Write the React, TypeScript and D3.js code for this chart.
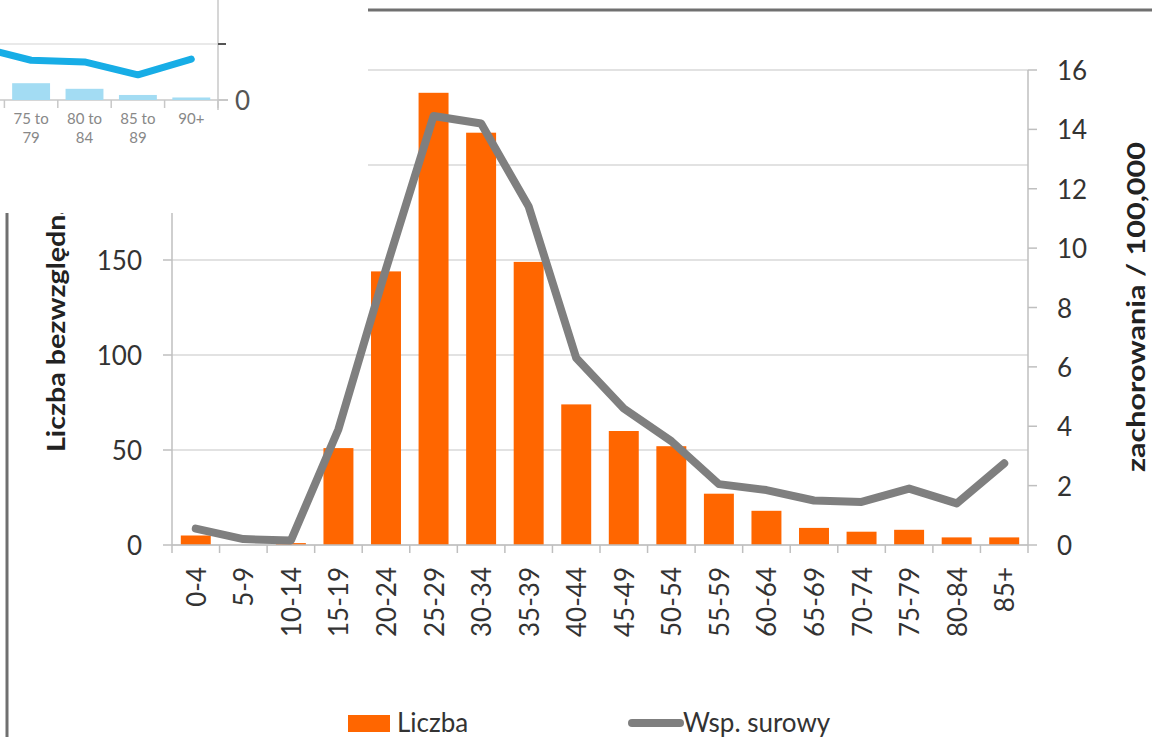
import React from "react";
import * as d3 from "d3";

// Age groups and values for the main chart
const ageGroups = ["0-4", "5-9", "10-14", "15-19", "20-24", "25-29", "30-34", "35-39", "40-44", "45-49", "50-54", "55-59", "60-64", "65-69", "70-74", "75-79", "80-84", "85+"];
const counts = [5, 0, 1, 51, 144, 238, 217, 149, 74, 60, 52, 27, 18, 9, 7, 8, 4, 4];
const rates = [0.55, 0.2, 0.15, 3.9, 9.3, 14.45, 14.2, 11.4, 6.3, 4.6, 3.5, 2.05, 1.85, 1.5, 1.45, 1.9, 1.4, 2.75];
const countTicks = [0, 50, 100, 150, 200, 250];
const rateTicks = [0, 2, 4, 6, 8, 10, 12, 14, 16];

// Small overlaid panel (older-age tail of another chart)
const insetGroups = ["70 to 74", "75 to 79", "80 to 84", "85 to 89", "90+"];
const insetBars = [4.1, 3.0, 2.0, 0.9, 0.45];
const insetLine = [9.5, 7.1, 6.8, 4.5, 7.3];
const insetTicks = [0, 10];

const W = 1152;
const H = 737;
const FONT = "Lato, 'Open Sans', sans-serif";
const ORANGE = "#ff6600";
const GREY = "#7f7f7f";
const TEXT = "#333";

export default function App() {
  const left = 172;
  const right = 1028;
  const top = 70;
  const bottom = 545;

  const x = d3.scaleBand<string>().domain(ageGroups).range([left, right]).paddingInner(0.37).paddingOuter(0.185);
  const xStep = d3.scaleBand<string>().domain(ageGroups).range([left, right]);
  const yL = d3.scaleLinear().domain([0, 250]).range([bottom, top]);
  const yR = d3.scaleLinear().domain([0, 16]).range([bottom, top]);

  const line = d3
    .line<number>()
    .x((_, i) => (xStep(ageGroups[i]) as number) + xStep.bandwidth() / 2)
    .y((d) => yR(d));

  // inset scales
  const ix = d3.scaleBand<string>().domain(insetGroups).range([-49, 218]).paddingInner(0.29).paddingOuter(0.145);
  const ixStep = d3.scaleBand<string>().domain(insetGroups).range([-49, 218]);
  const iy = d3.scaleLinear().domain([0, 10]).range([100, 44]);
  const iLine = d3
    .line<number>()
    .x((_, i) => (ixStep(insetGroups[i]) as number) + ixStep.bandwidth() / 2)
    .y((d) => iy(d));

  const splitLabel = (s: string) => {
    const m = s.match(/^(\d+ to) (\d+)$/);
    return m ? [m[1], m[2]] : [s];
  };

  return (
    <svg
      width={W}
      height={H}
      style={{ position: "absolute", left: 0, top: 0, background: "#fff" }}
      fontFamily={FONT}
    >
      <rect x={0} y={0} width={W} height={H} fill="#fff" />

      {/* gridlines */}
      {countTicks.map((t) => (
        <line key={"g" + t} x1={left} x2={right} y1={yL(t)} y2={yL(t)} stroke="#d9d9d9" strokeWidth={1.5} />
      ))}

      {/* bars */}
      {counts.map((c, i) => (
        <rect
          key={"b" + i}
          x={x(ageGroups[i])}
          y={yL(c)}
          width={x.bandwidth()}
          height={bottom - yL(c)}
          fill={ORANGE}
        />
      ))}

      {/* axes */}
      <line x1={left} x2={left} y1={top} y2={bottom} stroke="#bfbfbf" strokeWidth={1.5} />
      <line x1={right} x2={right} y1={top} y2={bottom} stroke="#bfbfbf" strokeWidth={1.5} />
      <line x1={left} x2={right} y1={bottom} y2={bottom} stroke="#bfbfbf" strokeWidth={1.5} />
      {countTicks.map((t) => (
        <g key={"lt" + t}>
          <line x1={left - 9} x2={left} y1={yL(t)} y2={yL(t)} stroke="#bfbfbf" strokeWidth={1.5} />
          <text x={142} y={yL(t)} textAnchor="end" dominantBaseline="central" fontSize={26} fill={TEXT}>
            {t}
          </text>
        </g>
      ))}
      {rateTicks.map((t) => (
        <g key={"rt" + t}>
          <line x1={right} x2={right + 9} y1={yR(t)} y2={yR(t)} stroke="#bfbfbf" strokeWidth={1.5} />
          <text x={1057} y={yR(t)} textAnchor="start" dominantBaseline="central" fontSize={26} fill={TEXT}>
            {t}
          </text>
        </g>
      ))}
      {d3.range(ageGroups.length + 1).map((i) => {
        const xx = left + i * xStep.step();
        return <line key={"xt" + i} x1={xx} x2={xx} y1={bottom} y2={bottom + 8} stroke="#bfbfbf" strokeWidth={1.5} />;
      })}
      {ageGroups.map((g) => {
        const cx = (xStep(g) as number) + xStep.bandwidth() / 2;
        return (
          <text
            key={"xl" + g}
            transform={`translate(${cx},567) rotate(-90)`}
            textAnchor="end"
            dominantBaseline="central"
            fontSize={26}
            fill={TEXT}
          >
            {g}
          </text>
        );
      })}

      {/* rate line */}
      <path d={line(rates) || ""} fill="none" stroke={GREY} strokeWidth={8} strokeLinejoin="round" strokeLinecap="round" />

      {/* axis titles */}
      <text
        transform="translate(55,452) rotate(-90)"
        textAnchor="start"
        dominantBaseline="central"
        fontSize={24}
        fontWeight="bold"
        fill="#222"
        textLength={252}
        lengthAdjust="spacingAndGlyphs"
      >
        Liczba bezwzględna
      </text>
      <text
        transform="translate(1135,307) rotate(-90)"
        textAnchor="middle"
        dominantBaseline="central"
        fontSize={25}
        fontWeight="bold"
        fill="#222"
        textLength={330}
        lengthAdjust="spacingAndGlyphs"
      >
        zachorowania / 100,000
      </text>

      {/* legend */}
      <rect x={348} y={715} width={42} height={17} fill={ORANGE} />
      <text x={397} y={732} fontSize={26} fill={TEXT}>
        Liczba
      </text>
      <line x1={632} x2={680} y1={723} y2={723} stroke={GREY} strokeWidth={8} strokeLinecap="round" />
      <text x={683} y={732} fontSize={26} fill={TEXT}>
        Wsp. surowy
      </text>

      {/* chart frame */}
      <line x1={0} x2={W} y1={10} y2={10} stroke="#707070" strokeWidth={3} />
      <line x1={7} x2={7} y1={10} y2={H} stroke="#707070" strokeWidth={3} />

      {/* overlaid panel */}
      <defs>
        <clipPath id="insetClip">
          <rect x={0} y={0} width={368} height={213} />
        </clipPath>
      </defs>
      <g clipPath="url(#insetClip)">
        <rect x={0} y={0} width={368} height={213} fill="#fff" />
        {insetTicks.map((t) => (
          <line key={"ig" + t} x1={-60} x2={218} y1={iy(t)} y2={iy(t)} stroke={t === 0 ? "#c8c8c8" : "#e2e2e2"} strokeWidth={1.5} />
        ))}
        {insetBars.map((v, i) => (
          <rect
            key={"ib" + i}
            x={ix(insetGroups[i])}
            y={iy(v)}
            width={ix.bandwidth()}
            height={100 - iy(v)}
            fill="#a3dcf3"
          />
        ))}
        <path d={iLine(insetLine) || ""} fill="none" stroke="#17ade6" strokeWidth={7} strokeLinejoin="round" strokeLinecap="round" />
        <line x1={218} x2={218} y1={0} y2={110} stroke="#c8c8c8" strokeWidth={1.5} />
        {insetTicks.map((t) => (
          <line key={"itk" + t} x1={218} x2={t === 0 ? 228 : 226} y1={iy(t)} y2={iy(t)} stroke={t === 0 ? "#c8c8c8" : "#555"} strokeWidth={2} />
        ))}
        <text x={235} y={iy(0)} dominantBaseline="central" fontSize={26} fill="#555">
          0
        </text>
        {d3.range(insetGroups.length).map((i) => {
          const xx = (ixStep(insetGroups[i]) as number) + ixStep.step();
          return <line key={"ixt" + i} x1={xx} x2={xx} y1={100} y2={108} stroke="#c8c8c8" strokeWidth={1.5} />;
        })}
        {insetGroups.map((g) => {
          const cx = (ixStep(g) as number) + ixStep.bandwidth() / 2;
          return splitLabel(g).map((s, k) => (
            <text key={g + k} x={cx} y={124 + k * 19} textAnchor="middle" fontSize={15} fill="#888">
              {s}
            </text>
          ));
        })}
      </g>
    </svg>
  );
}
